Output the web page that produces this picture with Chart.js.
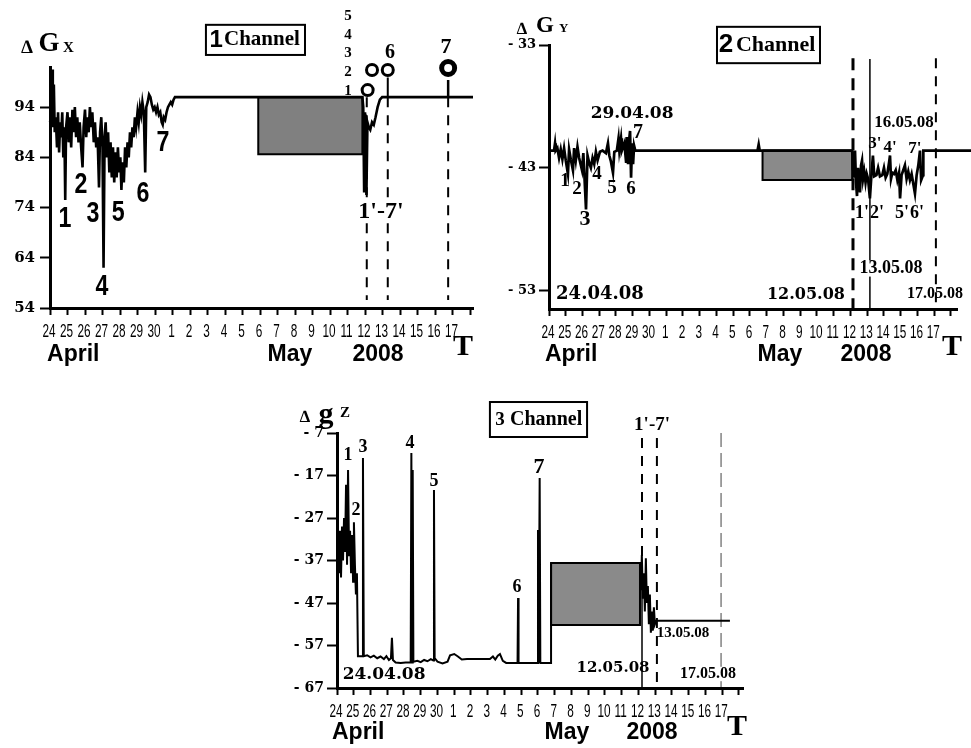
<!DOCTYPE html>
<html><head><meta charset="utf-8">
<script src="https://cdn.jsdelivr.net/npm/chart.js@4.4.1/dist/chart.umd.min.js"></script>
<style>
html,body{margin:0;padding:0;background:#fff;}
#wrap{position:relative;width:971px;height:748px;overflow:hidden;background:#fff;}
canvas{position:absolute;}
</style></head><body>
<div id="wrap">
<canvas id="c1" width="485" height="372" style="left:0px;top:0px"></canvas>
<canvas id="c2" width="481" height="372" style="left:490px;top:0px"></canvas>
<canvas id="c3" width="480" height="358" style="left:280px;top:390px"></canvas>
</div>
<script>
// ---------- shared tick labels (days, 24 April .. 17 May 2008) ----------
const dayTickLabels = ['24','25','26','27','28','29','30','1','2','3','4','5','6','7','8','9','10','11','12','13','14','15','16','17'];
const periodLabels = ['April','May','2008','T'];

// ---------- Channel 1 : ΔGx ----------
const ch1Days = [0.00,0.08,0.12,0.16,0.22,0.27,0.33,0.40,0.46,0.52,0.58,0.64,0.70,0.76,0.82,0.87,0.92,1.00,1.07,1.14,1.21,1.28,1.35,1.42,1.49,1.56,1.63,1.70,1.78,1.86,1.92,2.00,2.07,2.14,2.21,2.28,2.35,2.42,2.50,2.57,2.64,2.72,2.80,2.86,2.93,3.00,3.06,3.12,3.18,3.25,3.32,3.39,3.46,3.53,3.60,3.67,3.74,3.81,3.88,3.95,4.02,4.08,4.14,4.22,4.29,4.36,4.43,4.50,4.57,4.64,4.71,4.78,4.85,4.92,5.00,5.07,5.14,5.21,5.28,5.36,5.44,5.50,5.58,5.66,5.74,5.82,5.90,5.98,6.06,6.14,6.22,6.30,6.38,6.44,6.50,6.58,6.66,6.74,6.82,6.90,6.98,7.06,7.14,7.25,11.90,17.85,17.90,17.95,18.00,18.08,18.14,18.22,18.30,18.40,18.50,18.60,18.72,18.85,18.98,24.17];
const ch1Values = [91,92,101.5,90,98.5,89,92,86,93,85,91,88,93,84,90,75.5,90,93,87,92,86,93.5,89,94,88,92,87,91,86,82,90,93.5,88,92,89,94,90,93,87,91,86,88,78,89,92,86,62,88,91,84,89,81,87,80,86,79,85,80,86,81,84,77.5,83,79,86,82,87,84,89,86,90,88,92,90,93,91,94,92.5,95,93,81,94,95,96.5,96,94.5,93.5,94,93,94,92.5,93,91,90.5,92,91.5,93,94,94.5,95,94.5,95.5,96,96,96,96,94,77,93,76.5,91,90,89.5,91,90.5,92,94,95.5,96,96];
const ch1YTicks = [54,64,74,84,94];
const ch1Box = [11.9, 17.85, 96, 84.6];          // from day, to day, top, bottom
const ch1RingDays = [18.15,18.4,18.4,18.4,18.4,19.3];
const ch1RingValues = [97.4,101.4,105.0,108.6,112.0,101.4];
const ch1BigRingDays = [22.75];
const ch1BigRingValues = [101.8];
const ch1MarkerDays = [18.1, 19.3, 22.75];

// ---------- Channel 2 : ΔGy ----------
const ch2Days = [0,0.30,0.36,0.40,0.50,0.60,0.70,0.80,0.90,1.00,1.13,1.20,1.30,1.43,1.50,1.60,1.70,1.80,1.97,2.05,2.21,2.30,2.40,2.50,2.60,2.70,2.80,2.90,3.04,3.20,3.40,3.52,3.60,3.70,3.82,3.90,4.05,4.15,4.20,4.30,4.35,4.50,4.60,4.65,4.72,4.78,4.84,4.90,4.96,5.02,5.08,5.15,12.45,12.52,12.58,18.10,18.20,18.27,18.33,18.39,18.45,18.52,18.57,18.63,18.69,18.75,18.82,18.90,18.97,19.05,19.16,19.25,19.34,19.42,19.55,19.65,19.76,19.90,20.00,20.10,20.20,20.30,20.36,20.42,20.50,20.60,20.70,20.80,20.90,20.96,21.05,21.15,21.25,21.35,21.45,21.55,21.65,21.75,21.85,21.95,22.05,22.15,22.22,22.33,22.35,25.2];
const ch2Values = [-41.6,-41.6,-41.0,-41.6,-41.4,-42.2,-41.5,-42.3,-41.4,-42.4,-43.5,-41.5,-42.3,-43.2,-41.4,-42.4,-41.3,-42.2,-43.2,-41.8,-46.4,-42.0,-42.6,-43.0,-42.2,-42.7,-41.7,-42.4,-41.7,-41.6,-41.8,-41.0,-42.0,-42.5,-43.4,-41.7,-41.6,-40.6,-41.6,-40.6,-41.6,-41.0,-42.5,-40.5,-42.7,-40.8,-40.0,-43.8,-41.0,-42.7,-41.2,-41.6,-41.6,-41.1,-41.6,-41.6,-43.8,-41.6,-44.2,-45.3,-43.0,-44.3,-45.0,-42.8,-42.4,-43.9,-43.3,-44.2,-43.5,-43.9,-45.5,-43.6,-42.0,-43.7,-43.6,-43.0,-43.7,-43.6,-43.0,-43.8,-43.5,-42.6,-42.0,-43.9,-43.4,-43.5,-43.2,-44.0,-43.4,-45.5,-43.6,-43.2,-42.8,-43.9,-43.3,-44.0,-43.5,-44.3,-45.1,-43.6,-42.8,-41.6,-44.0,-43.6,-41.6,-41.6];
const ch2YTicks = [-53,-43,-33];
const ch2Box = [12.75, 18.1, -41.6, -44.0];
const ch2MarkerDays = [18.15, 19.16, 23.1];

// ---------- Channel 3 : Δgz ----------
const ch3Days = [0.00,0.06,0.12,0.18,0.24,0.30,0.36,0.42,0.48,0.54,0.60,0.66,0.72,0.78,0.84,0.90,0.96,1.01,1.07,1.13,1.19,1.25,1.50,1.55,1.60,1.80,2.00,2.20,2.40,2.60,2.80,2.95,3.10,3.22,3.28,3.34,3.50,3.80,4.10,4.40,4.44,4.48,4.52,4.56,4.80,5.00,5.20,5.40,5.60,5.75,5.79,5.83,6.00,6.30,6.60,6.75,7.00,7.22,7.45,7.76,9.13,9.31,9.45,9.60,9.73,9.90,10.10,10.78,10.81,10.84,11.95,12.00,12.04,12.10,12.14,12.78,12.78,12.78,18.09,18.15,18.20,18.26,18.32,18.38,18.44,18.50,18.56,18.62,18.68,18.74,18.80,18.86,18.92,18.98,19.05,23.46];
const ch3Values = [-38,-32,-40,-30,-41,-29,-37,-27,-35,-19.2,-38,-15.7,-36,-30,-40,-31,-42,-28,-38,-45,-40,-59.5,-59.5,-12.9,-59.5,-59.3,-59.8,-59.4,-60.0,-59.6,-60.2,-59.5,-60.4,-60.0,-55.2,-60.4,-61.0,-61.1,-61.0,-61.0,-11.7,-61.0,-15.7,-60.8,-60.6,-60.9,-60.4,-60.7,-60.2,-60.5,-20.4,-60.0,-60.8,-61.2,-60.8,-59.3,-59.0,-59.6,-60.3,-60.2,-60.2,-59.6,-60.3,-59.4,-59.0,-60.6,-61.1,-61.1,-45.8,-61.1,-61.1,-29.8,-61.1,-17.6,-61.1,-61.1,-52.2,-37.6,-37.6,-44,-35.7,-46,-40,-49,-36.5,-47,-43,-52,-45,-54,-49,-53.5,-48,-52,-51.2,-51.2];
const ch3YTicks = [-67,-57,-47,-37,-27,-17,-7];
const ch3Box = [12.78, 18.09, -37.6, -52.2];
const ch3MarkerDays = [18.21, 19.1, 22.93];

// ---------- fonts ----------
const SERIF = "'Liberation Serif','Times New Roman',serif";
const DSERIF = "'DejaVu Serif',serif";
const SANS = "'Liberation Sans',Arial,sans-serif";

const pts = (xs, ys) => xs.map((x, i) => ({x, y: ys[i]}));
const seg = (d, a, b) => [{x: d, y: a}, {x: d, y: b}];

function line(data, w, extra) {
  return Object.assign({data, showLine: true, borderColor: '#000', borderWidth: w, pointRadius: 0, fill: false, tension: 0, clip: false}, extra || {});
}
function boxSets(b, fillColor) {
  const [x0, x1, top, bot] = b;
  return [
    line([{x:x0,y:top},{x:x0,y:bot},{x:x1,y:bot},{x:x1,y:top},{x:x0,y:top}], 2),
    line([{x:x0,y:top},{x:x1,y:top}], 0, {fill: '+1', backgroundColor: fillColor, borderColor: 'rgba(0,0,0,0)'}),
    line([{x:x0,y:bot},{x:x1,y:bot}], 0, {borderColor: 'rgba(0,0,0,0)'})
  ];
}

// text layer plugin: day labels under the axis ticks, and notes at data coordinates
const notesPlugin = {
  id: 'notes',
  afterDatasetsDraw(chart, args, opts) {
    const {ctx} = chart, X = chart.scales.x, Y = chart.scales.y;
    ctx.save();
    // condensed day labels placed at the axis tick values
    ctx.font = `19px ${SANS}`; ctx.textAlign = 'center'; ctx.textBaseline = 'middle'; ctx.fillStyle = '#000';
    X.ticks.forEach((tk, i) => {
      const lbl = dayTickLabels[i];
      if (!lbl) return;
      ctx.save();
      ctx.translate(X.getPixelForValue(tk.value) - 1, X.top + 24);
      ctx.scale(0.62, 1);
      ctx.fillText(lbl, 0, 0);
      ctx.restore();
    });
    (opts.frames || []).forEach(b => {
      ctx.lineWidth = 2; ctx.strokeStyle = '#000';
      const x0 = X.getPixelForValue(b[0]), x1 = X.getPixelForValue(b[1]);
      const y0 = Y.getPixelForValue(b[2]), y1 = Y.getPixelForValue(b[3]);
      ctx.fillStyle = '#fff'; ctx.fillRect(x0, y0, x1 - x0, y1 - y0);
      ctx.strokeRect(x0, y0, x1 - x0, y1 - y0);
    });
    (opts.items || []).forEach(n => {
      ctx.font = n.f; ctx.textAlign = n.a || 'center'; ctx.textBaseline = 'middle';
      const px = X.getPixelForValue(n.x), py = Y.getPixelForValue(n.y);
      const sx = n.sx || 1;
      if (n.bg) {
        const w = ctx.measureText(n.t).width * sx, h = parseInt(n.f.match(/(\d+)px/)[1], 10);
        const lx = n.a === 'left' ? px : px - w / 2;
        ctx.fillStyle = '#fff'; ctx.fillRect(lx - 2, py - h * 0.45, w + 4, h * 0.9);
      }
      ctx.fillStyle = '#000';
      ctx.save();
      ctx.translate(px, py); ctx.scale(sx, 1);
      ctx.fillText(n.t, 0, 0);
      ctx.restore();
    });
    ctx.restore();
  }
};

function xScale(max, height) {
  return {
    type: 'linear', min: 0, max,
    afterBuildTicks: s => { s.ticks = dayTickLabels.map((_, i) => ({value: i})).concat([{value: 24}]); },
    afterFit: s => { s.height = height; },
    ticks: {display: false, autoSkip: false, maxRotation: 0, minRotation: 0, callback: (v, i) => dayTickLabels[i] ?? ''},
    grid: {display: true, drawOnChartArea: false, drawTicks: true, tickLength: 7, tickWidth: 2, tickColor: '#000'},
    border: {display: true, color: '#000', width: 3}
  };
}
function yScale(min, max, ticks, width, font, fmt, pad) {
  return {
    type: 'linear', min, max,
    afterBuildTicks: s => { s.ticks = ticks.map(v => ({value: v})); },
    afterFit: s => { s.width = width; },
    ticks: {padding: pad, color: '#000', font, callback: fmt},
    grid: {display: true, drawOnChartArea: false, drawTicks: true, tickLength: 10, tickWidth: 2, tickColor: '#000'},
    border: {display: true, color: '#000', width: 3}
  };
}
function makeChart(id, datasets, scales, padding, notes) {
  return new Chart(document.getElementById(id), {
    type: 'scatter',
    data: {datasets},
    options: {
      responsive: false, animation: false, devicePixelRatio: 1,
      layout: {padding},
      scales,
      elements: {point: {radius: 0}, line: {tension: 0}},
      plugins: {legend: {display: false}, tooltip: {enabled: false}, notes}
    },
    plugins: [notesPlugin]
  });
}
const n = (t, x, y, f, a, bg, sx) => ({t, x, y, f, a, bg, sx});
const BIG = `bold 29px ${SANS}`;

// ================= Panel 1 =================
const dash = [10, 8];
makeChart('c1', [
  line(pts(ch1Days, ch1Values), 2.6),
  {data: pts(ch1RingDays, ch1RingValues), showLine: false, pointRadius: 5.5, pointBorderWidth: 3,
   pointBorderColor: '#000', pointBackgroundColor: '#fff', clip: false},
  {data: pts(ch1BigRingDays, ch1BigRingValues), showLine: false, pointRadius: 6.5, pointBorderWidth: 5,
   pointBorderColor: '#000', pointBackgroundColor: '#fff', clip: false},
  line(seg(ch1MarkerDays[0], 96, 55.6), 2, {borderDash: dash}),
  line(seg(ch1MarkerDays[1], 99.9, 96), 2),
  line(seg(ch1MarkerDays[1], 96, 55.6), 2, {borderDash: dash}),
  line(seg(ch1MarkerDays[2], 99.4, 96), 2.5),
  line(seg(ch1MarkerDays[2], 96, 55.6), 2, {borderDash: dash}),
  ...boxSets(ch1Box, '#808080')
], {
  x: xScale(24.17, 64),
  y: yScale(54, 102, ch1YTicks, 50, {family: DSERIF, size: 15, weight: 'bold'}, v => String(v), 5)
}, {top: 67, right: 12, left: 0, bottom: 0}, {
  frames: [[8.91, 14.57, 110.4, 104.4]],
  items: [
    n('∆', -1.31, 105.8, `bold 19px ${SERIF}`),
    n('G', -0.06, 106.6, `bold 27px ${SERIF}`),
    n('X', 0.74, 105.8, `bold 15px ${SERIF}`, 'left'),
    n('1', 9.49, 107.4, `bold 24px ${SANS}`),
    n('Channel', 9.94, 107.4, `bold 21px ${SERIF}`, 'left'),
    n('1', 0.86, 71.7, BIG, 'center', false, 0.8),
    n('2', 1.77, 78.5, BIG, 'center', false, 0.8),
    n('3', 2.46, 72.7, BIG, 'center', false, 0.8),
    n('4', 2.97, 58.2, BIG, 'center', false, 0.8),
    n('5', 3.89, 72.9, BIG, 'center', false, 0.8),
    n('6', 5.31, 76.7, BIG, 'center', false, 0.8),
    n('7', 6.46, 86.9, BIG, 'center', false, 0.8),
    n("1'-7'", 18.91, 73.1, `bold 24px ${SERIF}`, 'center', true),
    n('5', 17.03, 112.2, `bold 15px ${SERIF}`),
    n('4', 17.03, 108.4, `bold 15px ${SERIF}`),
    n('3', 17.03, 104.8, `bold 15px ${SERIF}`),
    n('2', 17.03, 101.0, `bold 15px ${SERIF}`),
    n('1', 17.03, 97.2, `bold 15px ${SERIF}`),
    n('6', 19.43, 104.8, `bold 20px ${SERIF}`),
    n('7', 22.63, 106.0, `bold 22px ${SERIF}`),
    n(periodLabels[0], -0.17, 44.8, `bold 23px ${SANS}`, 'left'),
    n(periodLabels[1], 13.71, 44.8, `bold 23px ${SANS}`),
    n(periodLabels[2], 18.74, 44.8, `bold 23px ${SANS}`),
    n(periodLabels[3], 23.6, 46.2, `bold 30px ${SERIF}`)
  ]
});

// ================= Panel 2 =================
const minusFmt = v => '- ' + Math.abs(v);
makeChart('c2', [
  line(pts(ch2Days, ch2Values), 2.7),
  line(seg(ch2MarkerDays[0], -34.07, -54.5), 3, {borderDash: [12, 8]}),
  line(seg(ch2MarkerDays[1], -34.15, -54.5), 1.5),
  line(seg(ch2MarkerDays[2], -34.07, -54.5), 2, {borderDash: dash}),
  ...boxSets(ch2Box, '#8a8a8a')
], {
  x: xScale(24.36, 63),
  y: yScale(-54.5, -33, ch2YTicks, 59, {family: DSERIF, size: 13, weight: 'bold'}, minusFmt, 3)
}, {top: 45, right: 14, left: 0, bottom: 0}, {
  frames: [[10.03, 16.18, -31.52, -34.48]],
  items: [
    n('∆', -1.61, -31.75, `bold 17px ${SERIF}`),
    n('G', -0.24, -31.44, `bold 23px ${SERIF}`),
    n('Y', 0.6, -31.69, `bold 13px ${SERIF}`, 'left'),
    n('2', 10.57, -33.0, `bold 26px ${SANS}`),
    n('Channel', 11.16, -33.0, `bold 22px ${SERIF}`, 'left'),
    n('29.04.08', 4.96, -38.57, `bold 17px ${DSERIF}`),
    n('7', 5.31, -40.13, `bold 20px ${SERIF}`),
    n('1', 0.96, -44.07, `bold 19px ${SERIF}`),
    n('2', 1.67, -44.72, `bold 19px ${SERIF}`),
    n('3', 2.15, -47.18, `bold 22px ${SERIF}`),
    n('4', 2.87, -43.49, `bold 19px ${SERIF}`),
    n('5', 3.76, -44.64, `bold 19px ${SERIF}`),
    n('6', 4.9, -44.72, `bold 19px ${SERIF}`),
    n('24.04.08', 3.04, -53.34, `bold 18px ${DSERIF}`),
    n('12.05.08', 15.34, -53.34, `bold 16px ${DSERIF}`),
    n('13.05.08', 20.42, -51.2, `bold 18px ${SERIF}`, 'center', true),
    n('17.05.08', 23.04, -53.26, `bold 16px ${SERIF}`),
    n('16.05.08', 21.19, -39.32, `bold 17px ${SERIF}`),
    n("3'", 19.46, -41.04, `bold 17px ${SERIF}`),
    n("4'", 20.36, -41.37, `bold 17px ${SERIF}`),
    n("7'", 21.85, -41.45, `bold 17px ${SERIF}`),
    n("1'", 18.69, -46.69, `bold 18px ${SERIF}`),
    n("2'", 19.58, -46.69, `bold 18px ${SERIF}`),
    n("5'", 21.07, -46.69, `bold 18px ${SERIF}`),
    n("6'", 21.97, -46.69, `bold 18px ${SERIF}`),
    n(periodLabels[0], -0.24, -58.18, `bold 23px ${SANS}`, 'left'),
    n(periodLabels[1], 13.79, -58.18, `bold 23px ${SANS}`),
    n(periodLabels[2], 18.93, -58.18, `bold 23px ${SANS}`),
    n(periodLabels[3], 24.06, -57.6, `bold 30px ${SERIF}`)
  ]
});

// ================= Panel 3 =================
makeChart('c3', [
  line(pts(ch3Days, ch3Values), 2),
  line(seg(ch3MarkerDays[0], -8.2, -41.6), 2, {borderDash: dash}),
  line(seg(ch3MarkerDays[0], -41.6, -67), 1.5),
  line(seg(ch3MarkerDays[1], -8.2, -67), 2, {borderDash: dash}),
  line(seg(ch3MarkerDays[2], -7, -67), 1, {borderDash: [14, 6], borderColor: '#444'}),
  ...boxSets(ch3Box, '#8a8a8a')
], {
  x: xScale(24.24, 60),
  y: yScale(-67, -7, ch3YTicks, 57, {family: DSERIF, size: 14, weight: 'bold'}, minusFmt, 3)
}, {top: 43, right: 17, left: 0, bottom: 0}, {
  frames: [[9.13, 14.93, 0.29, -7.94]],
  items: [
    n('∆', -1.91, -3.4, `bold 17px ${SERIF}`),
    n('g', -0.66, -2.76, `bold 30px ${SERIF}`),
    n('Z', 0.18, -2.29, `bold 15px ${SERIF}`, 'left'),
    n('3', 9.73, -3.94, `bold 19px ${SERIF}`),
    n('Channel', 10.33, -3.94, `bold 20px ${SERIF}`, 'left'),
    n('1', 0.66, -12.18, `bold 18px ${SERIF}`),
    n('2', 1.13, -25.12, `bold 18px ${SERIF}`),
    n('3', 1.55, -10.29, `bold 18px ${SERIF}`),
    n('4', 4.36, -9.35, `bold 18px ${SERIF}`),
    n('5', 5.79, -18.29, `bold 18px ${SERIF}`),
    n('6', 10.75, -43.24, `bold 18px ${SERIF}`),
    n('7', 12.06, -15.0, `bold 22px ${SERIF}`),
    n("1'-7'", 18.81, -5.12, `bold 19px ${SERIF}`),
    n('24.04.08', 2.81, -63.94, `bold 17px ${DSERIF}`),
    n('12.05.08', 16.48, -62.29, `bold 15px ${DSERIF}`),
    n('13.05.08', 20.66, -54.06, `bold 15px ${SERIF}`),
    n('17.05.08', 22.15, -63.7, `bold 16px ${SERIF}`, 'center', true),
    n(periodLabels[0], -0.3, -77.59, `bold 23px ${SANS}`, 'left'),
    n(periodLabels[1], 13.73, -77.59, `bold 23px ${SANS}`),
    n(periodLabels[2], 18.81, -77.59, `bold 23px ${SANS}`),
    n(periodLabels[3], 23.88, -76.18, `bold 30px ${SERIF}`)
  ]
});
</script>
</body></html>
